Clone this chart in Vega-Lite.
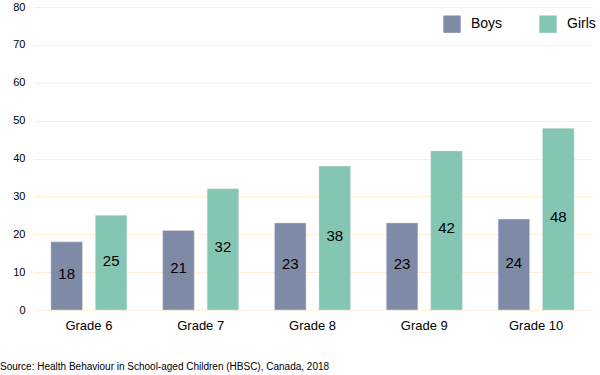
{
  "$schema": "https://vega.github.io/schema/vega-lite/v6.json",
  "width": 559,
  "height": 303,
  "autosize": "none",
  "padding": {"left": 33, "top": 7, "right": 8, "bottom": 65},
  "background": "white",
  "config": {
    "view": {"stroke": null},
    "font": "Liberation Sans",
    "axisX": {"labelAngle": 0, "ticks": false, "domain": false, "labelFontSize": 13, "labelColor": "#000000", "labelPadding": 9, "title": null, "grid": false},
    "axisY": {"domain": false, "ticks": false, "labelPadding": 8, "labelFontSize": 11, "labelColor": "#000000", "gridColor": "#fdf0d6", "gridWidth": 1, "title": null}
  },
  "title": {"text": "Source: Health Behaviour in School-aged Children (HBSC), Canada, 2018", "orient": "bottom", "anchor": "start", "frame": "group", "dx": -33, "offset": 30, "fontSize": 10, "fontWeight": "normal", "color": "#000000", "font": "Liberation Sans"},
  "data": {"values": [
    {"grade": "Grade 6", "sex": "Boys", "value": 18},
    {"grade": "Grade 6", "sex": "Girls", "value": 25},
    {"grade": "Grade 7", "sex": "Boys", "value": 21},
    {"grade": "Grade 7", "sex": "Girls", "value": 32},
    {"grade": "Grade 8", "sex": "Boys", "value": 23},
    {"grade": "Grade 8", "sex": "Girls", "value": 38},
    {"grade": "Grade 9", "sex": "Boys", "value": 23},
    {"grade": "Grade 9", "sex": "Girls", "value": 42},
    {"grade": "Grade 10", "sex": "Boys", "value": 24},
    {"grade": "Grade 10", "sex": "Girls", "value": 48}
  ]},
  "encoding": {
    "x": {"field": "grade", "type": "nominal", "sort": null, "scale": {"paddingInner": 0.32, "paddingOuter": 0.16}, "axis": {"title": null}},
    "xOffset": {"field": "sex", "type": "nominal", "scale": {"paddingInner": 0.29, "paddingOuter": 0}}
  },
  "layer": [
    {"mark": {"type": "bar", "stroke": "#dde3ea", "strokeWidth": 0.5},
     "encoding": {
       "y": {"field": "value", "type": "quantitative", "scale": {"domain": [0, 80]},
         "axis": {"title": null, "values": [0,10,20,30,40,50,60,70,80], "gridColor": "#fdf0d6"}},
       "color": {"field": "sex", "type": "nominal",
       "scale": {"domain": ["Boys", "Girls"], "range": ["#7f8ba6", "#84c5b4"]},
       "legend": {"title": null, "orient": "none", "legendX": 410, "legendY": 8, "direction": "horizontal", "symbolType": "square", "symbolSize": 300, "symbolStrokeWidth": 0, "labelFontSize": 14, "labelColor": "#000000", "columnPadding": 36, "labelOffset": 10}}}},
    {"transform": [{"calculate": "datum.value / 2", "as": "mid"}],
     "mark": {"type": "text", "fontSize": 15, "color": "#000000", "baseline": "middle", "dy": -2},
     "encoding": {"y": {"field": "mid", "type": "quantitative", "scale": {"domain": [0, 80]},
         "axis": {"title": null, "values": [0,10,20,30,40,50,60,70,80], "gridColor": "#fdf0d6"}}, "text": {"field": "value"}}}
  ]
}
